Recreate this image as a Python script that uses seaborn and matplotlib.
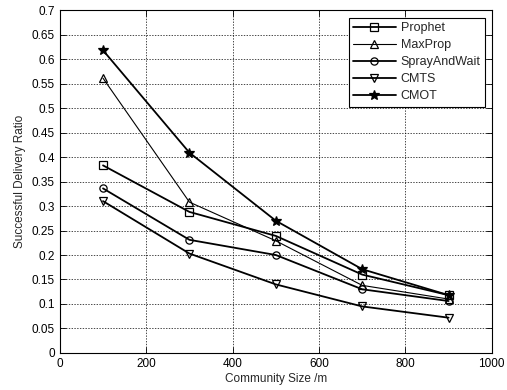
import matplotlib
matplotlib.use("Agg")
import matplotlib.pyplot as plt
import seaborn as sns
import pandas as pd

community_size = [100, 300, 500, 700, 900]
prophet = [0.383, 0.288, 0.239, 0.160, 0.118]
maxprop = [0.561, 0.308, 0.229, 0.138, 0.110]
spray_and_wait = [0.336, 0.231, 0.200, 0.130, 0.106]
cmts = [0.310, 0.203, 0.140, 0.095, 0.072]
cmot = [0.618, 0.409, 0.270, 0.171, 0.118]

series_names = ["Prophet", "MaxProp", "SprayAndWait", "CMTS", "CMOT"]
series_values = [prophet, maxprop, spray_and_wait, cmts, cmot]
markers = {"Prophet": "s", "MaxProp": "^", "SprayAndWait": "o", "CMTS": "v", "CMOT": "*"}
widths = {"Prophet": 1.3, "MaxProp": 0.8, "SprayAndWait": 1.3, "CMTS": 1.3, "CMOT": 1.3}

rows = []
for name, vals in zip(series_names, series_values):
    for x, y in zip(community_size, vals):
        rows.append({"size": x, "ratio": y, "series": name})
df = pd.DataFrame(rows)

sns.set_style("white")
plt.rcParams["font.family"] = ["Liberation Sans", "DejaVu Sans"]

fig = plt.figure(figsize=(5.07, 3.90), dpi=100)
ax = fig.add_axes([0.118, 0.095, 0.852, 0.879])

for name in series_names:
    sub = df[df["series"] == name]
    ms = 7 if name == "CMOT" else 5.2
    sns.lineplot(data=sub, x="size", y="ratio", ax=ax, color="black",
                 marker=markers[name], markersize=ms, markerfacecolor="none" if name != "CMOT" else "black",
                 markeredgecolor="black", markeredgewidth=0.9, linewidth=widths[name], label=name)

ax.set_xlim(0, 1000)
ax.set_ylim(0, 0.7)
ax.set_xticks([0, 200, 400, 600, 800, 1000])
ax.set_yticks([i * 0.05 for i in range(15)])
ax.set_yticklabels(["0", "0.05", "0.1", "0.15", "0.2", "0.25", "0.3", "0.35", "0.4",
                    "0.45", "0.5", "0.55", "0.6", "0.65", "0.7"])
ax.grid(True, color="black", linestyle=(0, (2, 2)), linewidth=0.5)
ax.tick_params(direction="in", length=4, labelsize=8.5, colors="black", width=0.6,
               top=True, right=True, bottom=True, left=True)
for s in ax.spines.values():
    s.set_color("black")
    s.set_linewidth(0.8)
ax.set_xlabel("Community Size /m", fontsize=8.5, labelpad=2)
ax.set_ylabel("Successful Delivery Ratio", fontsize=8.5, labelpad=4)

leg = ax.legend(loc="upper right", bbox_to_anchor=(0.99, 0.985), fontsize=9, frameon=True,
                fancybox=False, edgecolor="black", framealpha=1, borderpad=0.35,
                labelspacing=0.4, handlelength=3.4, handletextpad=0.4, borderaxespad=0.2)
leg.get_frame().set_linewidth(0.8)

fig.savefig("out.png", dpi=100)
